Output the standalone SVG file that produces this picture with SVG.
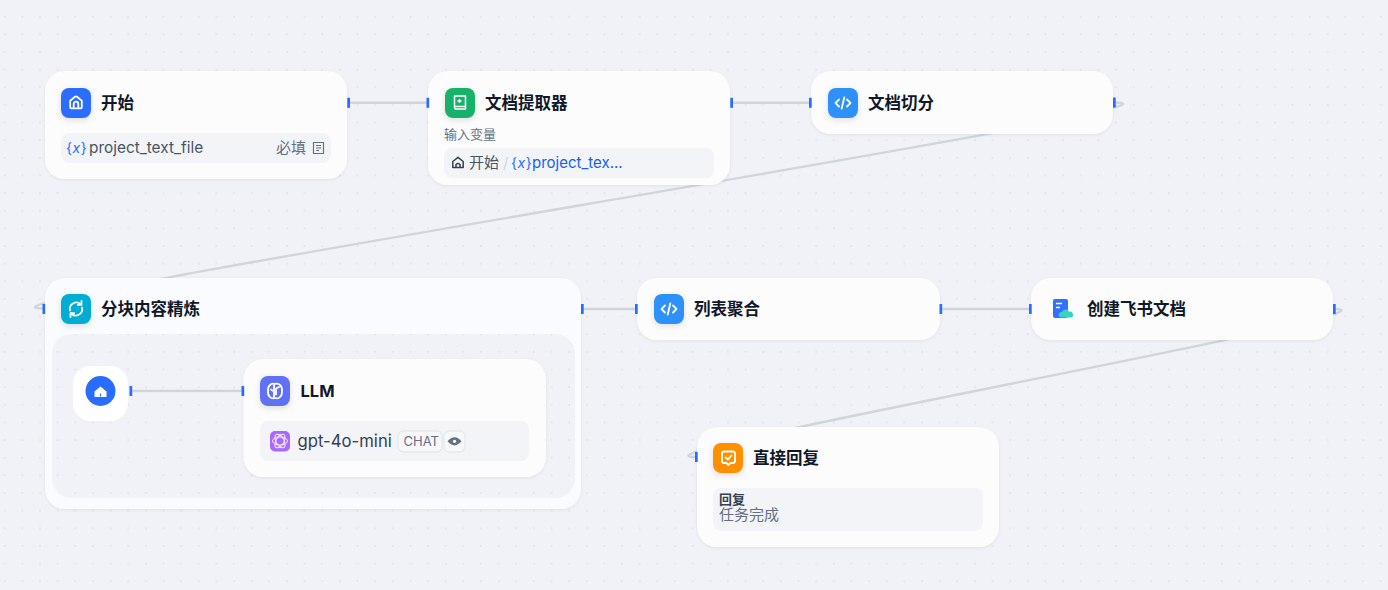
<svg xmlns="http://www.w3.org/2000/svg" width="1388" height="590" viewBox="0 0 1388 590">
<style>
text{font-family:Inter,"Noto Sans CJK SC","Noto Sans",sans-serif}
.node{fill:#fcfcfd;filter:url(#ns)}
.row{fill:#f2f4f7}
.t{font-size:16.5px;font-weight:700;fill:#101828}
.b{font-size:15px;fill:#495464}
.g{font-size:15px;fill:#676f83}
.v{font-size:14px;fill:#296dff;letter-spacing:0.6px}
.v tspan{font-style:italic}
.ic{filter:url(#is)}
.w{fill:none;stroke:#fff;stroke-width:1.8;stroke-linecap:round;stroke-linejoin:round}
.e{fill:none;stroke:#d0d5dc;stroke-width:2.4}
.h{fill:#296dff}
</style>
<defs>
<pattern id="dots" width="17.64" height="17.64" patternUnits="userSpaceOnUse" patternTransform="translate(-4.1 7.9)">
<circle cx="8.82" cy="8.82" r="1.05" fill="#e0e3eb"/>
</pattern>
<filter id="ns" x="-10%" y="-20%" width="120%" height="140%"><feDropShadow dx="0" dy="1" stdDeviation="1.5" flood-color="#101828" flood-opacity="0.07"/></filter>
<filter id="is" x="-30%" y="-30%" width="160%" height="160%"><feDropShadow dx="0" dy="2" stdDeviation="3" flood-color="#101828" flood-opacity="0.12"/></filter>
<g id="home"><path class="w" d="M-5.800 -1.800 L-1 -5.800 Q0 -6.500 1 -5.800 L5.800 -1.800 V4.800 Q5.800 5.800 4.800 5.800 H-4.800 Q-5.800 5.800 -5.800 4.800Z M-2.300 5.500 V1.500 A2.300 2.300 0 0 1 2.300 1.500 V5.500"/></g>
<g id="code"><path class="w" d="M-4 -3.500 L-7.500 0 L-4 3.500 M4 -3.500 L7.500 0 L4 3.500 M1.300 -5.500 L-1.300 5.500"/></g>
</defs>
<rect width="1388" height="590" fill="#f0f2f7"/>
<rect width="1388" height="590" fill="url(#dots)"/>

<g id="connectors">
<path class="e" d="M348 102.800H428"/>
<path class="e" d="M731 102.800H811"/>
<path class="e" d="M1114 102.500C1244.800 102.500 -86.800 308.500 44 308.500"/>
<path class="e" d="M582 309H637"/>
<path class="e" d="M940 309H1031"/>
<path class="e" d="M1333 309C1434 309 596 457 697 457"/>
</g>

<g id="node-start">
<rect class="node" x="45" y="71" width="302" height="108" rx="20"/>
<rect class="ic" x="61" y="88" width="30" height="30" rx="8" fill="#296dff"/>
<use href="#home" x="76" y="102.500"/>
<text class="t" x="101" y="109">开始</text>
<rect class="row" x="61" y="133" width="270" height="30" rx="8"/>
<text class="v" x="66" y="153">{<tspan>x</tspan>}</text>
<text class="b" x="89" y="153" style="font-size:15.400px">project_text_file</text>
<text class="g" x="276" y="153">必填</text>
<path d="M313.500 142.500H323.500V153.500H313.500Z M316 145.500H321 M316 148H321 M316 150.500H319" fill="none" stroke="#676f83" stroke-width="1.200"/>
<rect class="h" x="347.300" y="97.800" width="2.700" height="10"/>
</g>

<g id="node-extractor">
<rect class="node" x="428" y="71" width="302" height="114" rx="20"/>
<rect class="ic" x="445" y="88" width="30" height="30" rx="8" fill="#17b26a"/>
<path d="M454.500 96H465.500V109H456Q454.500 109 454.500 107.500Z M454.500 106.500H465.500" fill="none" stroke="#fff" stroke-width="1.500" stroke-linejoin="round"/>
<path d="M459.500 99V103M457.500 101H461.500" stroke="#fff" stroke-width="1.400"/>
<text class="t" x="485" y="109">文档提取器</text>
<text x="444" y="139" style="font-size:13px" fill="#676f83">输入变量</text>
<rect class="row" x="444" y="148" width="270" height="30" rx="8"/>
<path d="M452.800 161.500L458 157.300L463.200 161.500V167.500H452.800Z M456 167.500V164.500Q458 162.500 460 164.500V167.500" fill="none" stroke="#354052" stroke-width="1.500" stroke-linejoin="round"/>
<text class="b" x="469" y="168">开始</text>
<text x="503" y="168" style="font-size:15px" fill="#d0d5dc">/</text>
<text class="v" x="511" y="168">{<tspan>x</tspan>}</text>
<text x="532" y="168" style="font-size:15px" fill="#155eef">project_tex...</text>
<rect class="h" x="730.300" y="97.800" width="2.700" height="10"/>
<rect class="h" x="426.500" y="97.800" width="2.700" height="10"/>
</g>

<g id="node-split">
<rect class="node" x="811" y="71" width="302" height="63" rx="20"/>
<rect class="ic" x="828" y="88" width="30" height="30" rx="8" fill="#2e90fa"/>
<use href="#code" x="843" y="103"/>
<text class="t" x="868" y="109">文档切分</text>
<rect class="h" x="809" y="97.800" width="2.700" height="10"/>
<rect class="h" x="1113" y="97.500" width="2.700" height="10"/>
</g>

<g id="node-iteration">
<rect class="node" x="45" y="278" width="536" height="231" rx="20" style="fill:#fafbfe"/>
<rect x="52" y="334" width="523" height="164" rx="20" fill="#f0f2f7"/>
<rect x="52" y="334" width="523" height="164" rx="20" fill="url(#dots)"/>
<rect class="ic" x="61" y="294" width="30" height="30" rx="8" fill="#06aed4"/>
<path class="w" d="M70 310.500A6.500 6.500 0 0 1 80.500 304M81.500 300.800V304.800H77.800M82 307.500A6.500 6.500 0 0 1 71.500 314M70.500 317.200V313.200H74.200"/>
<text class="t" x="101" y="315">分块内容精炼</text>
<rect class="h" x="42.500" y="304" width="2.700" height="10"/>
<rect class="h" x="581" y="304" width="2.700" height="10"/>
</g>

<g id="connectors-inner">
<path class="e" d="M131 391H243"/>
</g>

<g id="node-iter-start">
<rect x="73" y="366" width="55" height="55" rx="18" fill="#fff"/>
<circle cx="100.500" cy="391" r="15" fill="#296dff"/>
<path d="M94.500 391.500L100.500 386.500L106.500 391.500V397H94.500Z" fill="#fff"/>
<path d="M100.500 393.500V396.500" stroke="#296dff" stroke-width="1"/>
<rect class="h" x="129.500" y="386" width="2.700" height="10"/>
</g>

<g id="node-llm">
<rect class="node" x="243.500" y="359" width="302.500" height="118" rx="20"/>
<rect class="ic" x="260" y="376" width="30" height="30" rx="8" fill="#6172f3"/>
<path class="w" d="M275 384C271 382.500 267.500 386 268 391C267.500 396 271 399.500 275 398C279 399.500 282.500 396 282 391C282.500 386 279 382.500 275 384Z M274 384.500V397.500M274 391.500L271 389.500M276 394.500V388.500L279 387"/>
<text class="t" x="300.500" y="397">LLM</text>
<rect class="row" x="260" y="421" width="269" height="40" rx="8"/>
<rect x="270" y="431" width="20" height="20.500" rx="5" fill="#ab68ff"/>
<g fill="none" stroke="#fff" stroke-width="1" opacity="0.9"><ellipse cx="280" cy="441" rx="7.500" ry="4"/><ellipse cx="280" cy="441" rx="7.500" ry="4" transform="rotate(60 280 441)"/><ellipse cx="280" cy="441" rx="7.500" ry="4" transform="rotate(120 280 441)"/></g>
<text x="297.500" y="446.500" style="font-size:16.700px" fill="#354052">gpt-4o-mini</text>
<rect x="398" y="431" width="44" height="21" rx="5.500" fill="#f7f8fa" stroke="#e6e8ec" stroke-width="1.300"/>
<text x="403.500" y="446" style="font-size:13px" fill="#676f83">CHAT</text>
<rect x="444" y="431" width="21" height="21" rx="5.500" fill="#f7f8fa" stroke="#e6e8ec" stroke-width="1.300"/>
<path d="M447.500 441.300Q454.500 433 461.500 441.300Q454.500 449.500 447.500 441.300Z" fill="#676f83"/>
<circle cx="454.500" cy="441.300" r="1.600" fill="#fff"/>
<rect class="h" x="241.500" y="386" width="2.700" height="10"/>
</g>

<g id="node-aggregate">
<rect class="node" x="637" y="278" width="303" height="62" rx="20"/>
<rect class="ic" x="654" y="294" width="30" height="30" rx="8" fill="#2e90fa"/>
<use href="#code" x="669" y="309"/>
<text class="t" x="694" y="315">列表聚合</text>
<rect class="h" x="635" y="304" width="2.700" height="10"/>
<rect class="h" x="939.500" y="304" width="2.700" height="10"/>
</g>

<g id="node-feishu">
<rect class="node" x="1031" y="278" width="302" height="62" rx="20"/>
<rect x="1053" y="299" width="15" height="19" rx="2" fill="#3370ff"/>
<path d="M1056 303.500H1062M1056 307.500H1060" stroke="#fff" stroke-width="1.300"/>
<path d="M1060 317.500A3 3 0 0 1 1062 312A3.800 3.800 0 0 1 1069 311.800A3 3 0 0 1 1071 317.500Z" fill="#35d6c0"/>
<text class="t" x="1087" y="315">创建飞书文档</text>
<rect class="h" x="1029" y="304" width="2.700" height="10"/>
<rect class="h" x="1333" y="304" width="2.700" height="10"/>
</g>

<g id="node-answer">
<rect class="node" x="697" y="427" width="302" height="120" rx="20"/>
<rect class="ic" x="713" y="443" width="30" height="30" rx="8" fill="#fd9003"/>
<path class="w" d="M724 451.500H733Q735 451.500 735 453.500V461Q735 463 733 463H730.500L728.500 465L726.500 463H724Q722 463 722 461V453.500Q722 451.500 724 451.500Z M725.500 457.500L728 459.500L731.500 455.500"/>
<text class="t" x="753" y="464">直接回复</text>
<rect class="row" x="713" y="488" width="270" height="43" rx="8"/>
<text x="719" y="504" style="font-size:13px;font-weight:700" fill="#354052">回复</text>
<text class="g" x="719" y="519.500">任务完成</text>
<rect class="h" x="695" y="452" width="2.700" height="10"/>
</g>
</svg>
